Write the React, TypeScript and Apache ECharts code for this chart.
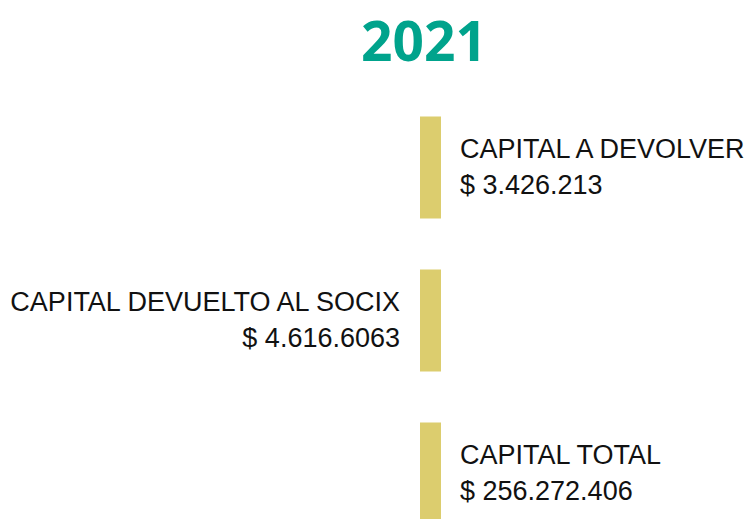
import React, { useEffect, useRef } from "react";
import * as echarts from "echarts";

const year = "2021";
const categories = ["CAPITAL A DEVOLVER", "CAPITAL DEVUELTO AL SOCIX", "CAPITAL TOTAL"];
const valueLabels = ["$ 3.426.213", "$ 4.616.6063", "$ 256.272.406"];

export default function App() {
  const ref = useRef<HTMLDivElement>(null);
  useEffect(() => {
    document.body.style.margin = "0";
    const chart = echarts.init(ref.current!, null, { renderer: "svg" });
    const data = categories.map((c, i) => [year, i, valueLabels[i]]);
    chart.setOption({
      animation: false,
      backgroundColor: "#ffffff",
      graphic: [
        {
          type: "text",
          x: 424,
          y: 39,
          style: {
            text: year,
            fill: "#00A38C",
            font: "bold 55px 'Open Sans'",
            textAlign: "center",
            textVerticalAlign: "middle",
          },
        },
      ],
      grid: { left: 109, width: 643, top: 91, height: 459, outerBoundsMode: "none", containLabel: false },
      xAxis: { type: "category", data: [year], show: false },
      yAxis: { type: "category", data: categories, inverse: true, show: false },
      series: [
        {
          type: "custom",
          clip: false,
          data,
          renderItem: (params: any, api: any) => {
            const idx = api.value(1);
            const pt = api.coord([api.value(0), idx]);
            const band = api.size([0, 1])[1];
            const h = (band * 2) / 3;
            const w = 21;
            const right = idx % 2 === 0;
            return {
              type: "group",
              children: [
                {
                  type: "rect",
                  shape: { x: pt[0] - w / 2, y: pt[1] - h / 2, width: w, height: h },
                  style: { fill: "#DCCD6E" },
                },
                {
                  type: "text",
                  x: right ? pt[0] + w / 2 + 19 : pt[0] - w / 2 - 20,
                  y: pt[1] - 1,
                  style: {
                    text: categories[idx] + "\n" + valueLabels[idx],
                    fill: "#111111",
                    fontFamily: "'Liberation Sans', Arial, sans-serif",
                    fontSize: 27,
                    lineHeight: 36,
                    align: right ? "left" : "right",
                    verticalAlign: "middle",
                  },
                },
              ],
            };
          },
        },
      ],
    });
    return () => chart.dispose();
  }, []);
  return <div ref={ref} style={{ width: 752, height: 519 }} />;
}
